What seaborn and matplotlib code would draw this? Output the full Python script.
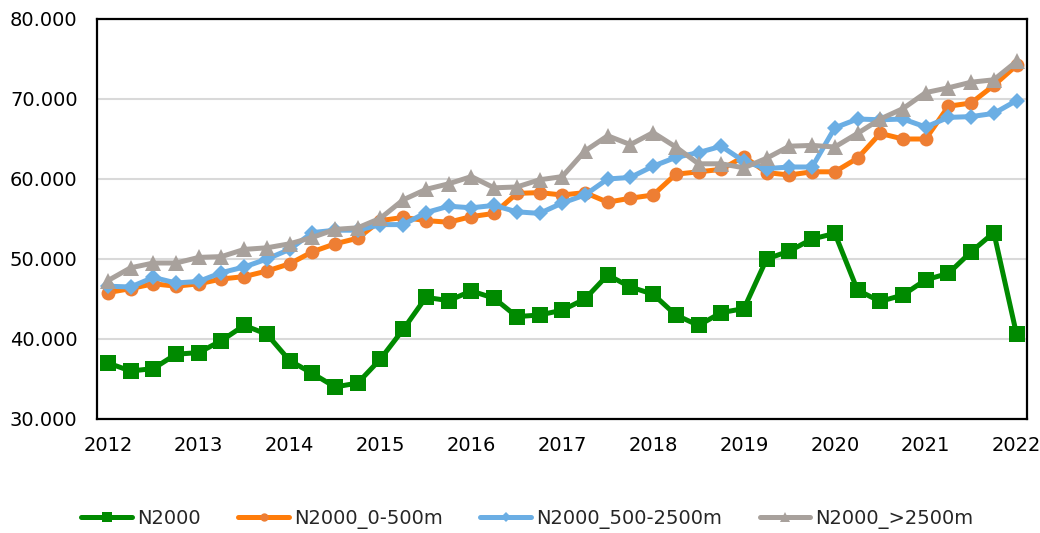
import numpy as np
import matplotlib
matplotlib.use("Agg")
import matplotlib.pyplot as plt
import matplotlib.ticker as mticker
import pandas as pd
import seaborn as sns

# quarterly values (in thousands), 2012 Q1 .. 2022 Q1
quarters = np.arange(2012, 2022.01, 0.25)
n2000 = [37.0, 36.0, 36.3, 38.1, 38.3, 39.8, 41.7, 40.6, 37.3, 35.7, 34.0,
         34.5, 37.5, 41.2, 45.2, 44.8, 46.0, 45.1, 42.8, 43.0, 43.6, 45.0,
         48.0, 46.5, 45.6, 43.0, 41.7, 43.3, 43.8, 50.0, 51.0, 52.5, 53.2,
         46.1, 44.7, 45.5, 47.4, 48.2, 50.9, 53.3, 40.6]
n2000_0_500 = [45.8, 46.3, 46.9, 46.6, 46.9, 47.5, 47.8, 48.5, 49.4, 50.9, 51.9,
               52.6, 54.8, 55.2, 54.8, 54.6, 55.3, 55.7, 58.2, 58.3, 58.0, 58.3,
               57.1, 57.6, 58.0, 60.6, 60.9, 61.2, 62.8, 60.8, 60.5, 60.9, 60.9,
               62.6, 65.7, 65.0, 65.0, 69.1, 69.5, 71.7, 74.2]
n2000_500_2500 = [46.6, 46.5, 47.7, 47.0, 47.2, 48.3, 49.0, 50.0, 51.2, 53.3, 53.6,
                  53.6, 54.3, 54.3, 55.8, 56.6, 56.4, 56.7, 55.9, 55.7, 57.0, 58.0,
                  60.0, 60.2, 61.6, 62.7, 63.3, 64.1, 62.2, 61.3, 61.5, 61.5, 66.4,
                  67.5, 67.4, 67.5, 66.5, 67.7, 67.8, 68.2, 69.8]
n2000_2500 = [47.3, 48.9, 49.5, 49.5, 50.2, 50.3, 51.2, 51.4, 51.9, 52.7, 53.7,
              53.9, 55.1, 57.4, 58.7, 59.4, 60.3, 58.9, 59.0, 59.9, 60.3, 63.5,
              65.4, 64.3, 65.8, 64.0, 61.9, 61.9, 61.4, 62.6, 64.1, 64.2, 64.0,
              65.7, 67.5, 68.8, 70.8, 71.4, 72.1, 72.4, 74.7]

labels = ["N2000", "N2000_0-500m", "N2000_500-2500m", "N2000_>2500m"]
series = [n2000, n2000_0_500, n2000_500_2500, n2000_2500]
colors = ["#008A00", "#FF7C0A", "#6BAEE4", "#A8A19C"]
mcolors = ["#008A00", "#EE7E33", "#6BAEE4", "#A8A19C"]
markers = ["s", "o", "D", "^"]
msizes = [11.5, 10, 8.5, 11.5]

sns.set_style("white")
plt.rcParams['font.family'] = ['DejaVu Sans']

fig = plt.figure(figsize=(10.4, 5.33), dpi=100)
ax = fig.add_axes([97 / 1040, 1 - 419 / 533, 930 / 1040, 400 / 533])

for lab, ys, c, mc, m, ms in zip(labels, series, colors, mcolors, markers, msizes):
    sns.lineplot(x=quarters, y=ys, ax=ax, color=c, lw=3.6, marker=m,
                 markersize=ms, markerfacecolor=mc, markeredgecolor=mc,
                 markeredgewidth=0, label=lab)

ax.set_xlim(2011.88, 2022.115)
ax.set_ylim(30, 80)
ax.set_xticks(range(2012, 2023))
ax.set_yticks(range(30, 81, 10))
ax.yaxis.set_major_formatter(mticker.FuncFormatter(
    lambda v, p: f"{int(round(v * 1000)):,}".replace(",", ".")))
ax.tick_params(axis="both", length=0, labelsize=14, colors="black")
ax.tick_params(axis="y", pad=14)
ax.tick_params(axis="x", pad=12)
ax.set_xlabel("")
ax.set_ylabel("")
ax.grid(axis="y", color="#D9D9D9", lw=1.5)
ax.grid(axis="x", visible=False)
for s in ax.spines.values():
    s.set_visible(True)
    s.set_color("black")
    s.set_linewidth(1.6)

handles, labs = ax.get_legend_handles_labels()
ax.get_legend().remove()
fig.legend(handles, labs, loc="center", bbox_to_anchor=(0.507, 1 - 519 / 533),
           ncol=4, frameon=False, fontsize=14, handlelength=2.6,
           handletextpad=0.25, columnspacing=1.95, markerscale=0.6)

fig.savefig("out.png", dpi=100)
